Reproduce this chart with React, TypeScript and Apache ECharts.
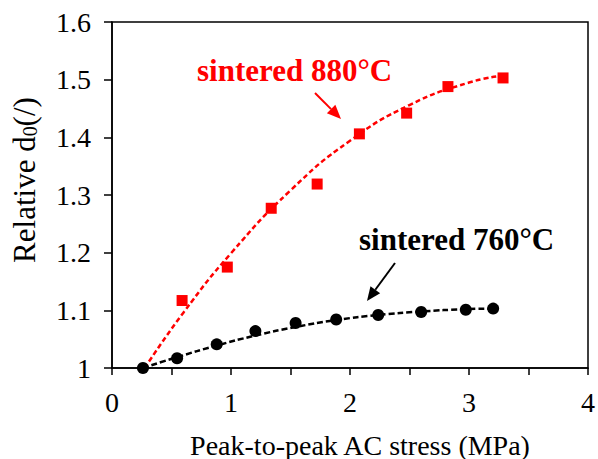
import React, { useEffect, useRef } from "react";
import * as echarts from "echarts";

// Measured points
const stress880 = [0.275, 0.589, 0.969, 1.338, 1.724, 2.079, 2.476, 2.823, 3.286];
const d880 = [0.999, 1.117, 1.175, 1.277, 1.319, 1.406, 1.442, 1.488, 1.503];
const stress760 = [0.26, 0.547, 0.88, 1.205, 1.543, 1.884, 2.237, 2.598, 2.973, 3.203];
const d760 = [1.0, 1.017, 1.041, 1.064, 1.078, 1.084, 1.092, 1.097, 1.101, 1.103];

// Trend curves
const trend880X = [0.275, 0.6, 1.0, 1.5, 2.0, 2.5, 3.0, 3.29];
const trend880Y = [1.0, 1.096, 1.199, 1.308, 1.394, 1.456, 1.495, 1.507];
const trend760X = [0.26, 0.55, 0.88, 1.2, 1.54, 1.88, 2.24, 2.6, 2.97, 3.2];
const trend760Y = [1.0, 1.019, 1.039, 1.056, 1.071, 1.083, 1.092, 1.098, 1.102, 1.103];

const xTicks = [0, 1, 2, 3, 4];
const yTicks = [1, 1.1, 1.2, 1.3, 1.4, 1.5, 1.6];

const FONT = "Liberation Serif";

function zip(xs: number[], ys: number[]) {
  return xs.map((x, i) => [x, ys[i]]);
}

function arrow(x1: number, y1: number, x2: number, y2: number, color: string) {
  const ang = Math.atan2(y2 - y1, x2 - x1);
  const len = 14;
  const half = 6;
  const bx = x2 - len * Math.cos(ang);
  const by = y2 - len * Math.sin(ang);
  const px = -Math.sin(ang) * half;
  const py = Math.cos(ang) * half;
  return [
    {
      type: "line",
      shape: { x1, y1, x2: bx, y2: by },
      style: { stroke: color, lineWidth: 2 },
    },
    {
      type: "polygon",
      shape: { points: [[x2, y2], [bx + px, by + py], [bx - px, by - py]] },
      style: { fill: color },
    },
  ];
}

export default function App() {
  const ref = useRef<HTMLDivElement>(null);
  useEffect(() => {
    const chart = echarts.init(ref.current!, undefined, { renderer: "svg" });
    chart.setOption({
      animation: false,
      backgroundColor: "#fff",
      textStyle: { fontFamily: FONT },
      grid: {
        left: 112,
        top: 22,
        right: 6,
        bottom: 91,
        show: true,
        borderColor: "#000",
        borderWidth: 1.5,
      },
      xAxis: {
        type: "value",
        min: xTicks[0],
        max: xTicks[xTicks.length - 1],
        interval: 1,
        axisLine: { show: true, onZero: false, lineStyle: { color: "#000", width: 1.5 } },
        axisTick: { show: true, inside: false, length: 7, lineStyle: { color: "#000", width: 1.5 } },
        minorTick: { show: true, splitNumber: 2, length: 7, lineStyle: { color: "#000", width: 1.5 } },
        splitLine: { show: false },
        axisLabel: { color: "#000", fontFamily: FONT, fontSize: 28, margin: 20 },
      },
      yAxis: {
        type: "value",
        min: yTicks[0],
        max: yTicks[yTicks.length - 1],
        interval: 0.1,
        axisLine: { show: true, lineStyle: { color: "#000", width: 1.5 } },
        axisTick: { show: true, inside: false, length: 8, lineStyle: { color: "#000", width: 1.5 } },
        splitLine: { show: false },
        axisLabel: {
          color: "#000",
          fontFamily: FONT,
          fontSize: 28,
          margin: 21,
          formatter: (v: number) => String(parseFloat(v.toFixed(1))),
        },
      },
      series: [
        {
          type: "line",
          data: zip(trend880X, trend880Y),
          smooth: true,
          showSymbol: false,
          symbol: "none",
          lineStyle: { color: "#ff0000", width: 2.5, type: [5, 3] },
          z: 2,
        },
        {
          type: "line",
          data: zip(trend760X, trend760Y),
          smooth: true,
          showSymbol: false,
          symbol: "none",
          lineStyle: { color: "#000", width: 2.5, type: [6, 3] },
          z: 2,
        },
        {
          type: "scatter",
          data: zip(stress760, d760),
          symbol: "circle",
          symbolSize: 12,
          itemStyle: { color: "#000", opacity: 1 },
          z: 3,
        },
        {
          type: "scatter",
          data: zip(stress880, d880),
          symbol: "rect",
          symbolSize: 11,
          itemStyle: { color: "#ff0000", opacity: 1 },
          z: 4,
        },
      ],
      graphic: [
        {
          type: "text",
          left: 197,
          top: 55,
          style: {
            text: "sintered 880°C",
            fontFamily: FONT,
            fontSize: 31,
            fontWeight: "bold",
            fill: "#ff0000",
          },
        },
        {
          type: "text",
          left: 359,
          top: 224,
          style: {
            text: "sintered 760°C",
            fontFamily: FONT,
            fontSize: 31,
            fontWeight: "bold",
            fill: "#000",
          },
        },
        ...arrow(315, 93, 341, 119, "#ff0000"),
        ...arrow(395, 263, 367, 301, "#000"),
        {
          type: "text",
          x: 360,
          y: 445,
          style: {
            text: "Peak-to-peak AC stress (MPa)",
            fontFamily: FONT,
            fontSize: 28,
            fill: "#000",
            align: "center",
            verticalAlign: "middle",
          },
        },
        {
          type: "text",
          x: 24,
          y: 180,
          rotation: Math.PI / 2,
          style: {
            text: "{a|Relative d}{s|0}{a|(/)}",
            align: "center",
            verticalAlign: "middle",
            fill: "#000",
            rich: {
              a: { fontFamily: FONT, fontSize: 31, fill: "#000" },
              s: { fontFamily: FONT, fontSize: 20, fill: "#000", padding: [12, 0, 0, 0] },
            },
          },
        },
      ],
    });
    return () => chart.dispose();
  }, []);
  return (
    <div
      ref={ref}
      style={{ position: "absolute", left: 0, top: 0, width: 598, height: 459 }}
    />
  );
}
